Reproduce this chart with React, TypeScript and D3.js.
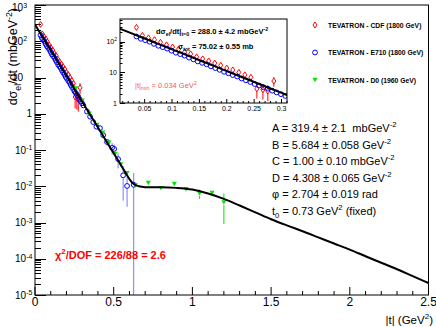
import React from "react";
import * as d3 from "d3";

// ---- fit curve ----
const fitT = [0,0.05,0.1,0.15,0.2,0.25,0.3,0.35,0.4,0.45,0.5,0.54,0.57,0.6,0.62,0.64,0.66,0.7,0.75,0.8,0.9,1.0,1.1,1.2,1.3,1.4,1.5,1.6,1.7,1.8,1.9,2.0,2.1,2.2,2.3,2.4,2.5];
const fitV = [288,127,56.2,24.8,11.0,4.84,2.14,0.944,0.417,0.184,0.0813,0.0427,0.0257,0.0158,0.0123,0.0107,0.0100,0.00944,0.00933,0.00933,0.00902,0.00813,0.00631,0.00447,0.00295,0.00191,0.00123,0.000832,0.000575,0.000389,0.000263,0.000178,0.000117,0.0000776,0.0000513,0.0000331,0.0000214];

// ---- CDF 1800 GeV ----
const cdfT = [0.035,0.046,0.057,0.068,0.079,0.090,0.101,0.112,0.123,0.134,0.145,0.156,0.167,0.178,0.189,0.200,0.211,0.222,0.233,0.244,0.255,0.266,0.275,0.286];
const cdfV = [292,160,134,116,96,79,67,57,46,40,32,27.5,23.5,20,17,13.8,12,10,8.3,6.9,2.9,2.7,2.45,5.2];
const cdfE = [10,6,5,4,3.5,3,2.5,2.2,1.8,1.6,1.3,1.1,1.0,0.9,0.8,0.7,0.65,0.6,0.55,0.5,1.5,1.4,1.3,1.8];

// ---- E710 1800 GeV ----
const e710T = [0.035,0.043,0.051,0.059,0.067,0.075,0.083,0.091,0.099,0.107,0.115,0.123,0.131,0.139,0.147,0.155,0.163,0.171,0.179,0.187,0.195,0.203,0.211,0.219,0.227,0.235,0.243,0.251,0.259,0.267,0.275,0.283,0.291,0.299,0.307,0.33,0.35,0.37,0.39,0.413,0.433,0.458,0.49,0.503,0.528,0.56,0.585,0.627];
const e710V = [148,124,112,100,85,73.6,66.2,59.4,50.9,43.7,39.2,35.2,30.2,26.5,22.7,20.4,18.3,15.7,13.8,12.1,10.4,9.31,8.17,7.33,6.28,5.51,4.84,4.15,3.72,3.27,2.93,2.52,2.21,1.94,1.70,1.15,0.83,0.59,0.44,0.40,0.257,0.166,0.115,0.107,0.056,0.020,0.0102,0.011];
const e710E = [4,3,3,2.5,2,2,1.7,1.5,1.3,1.1,1,0.9,0.8,0.7,0.6,0.55,0.5,0.42,0.38,0.34,0.3,0.27,0.24,0.22,0.2,0.18,0.16,0.14,0.13,0.12,0.11,0.1,0.09,0.08,0.075,0.06,0.05,0.04,0.035,0.035,0.03,0.035,0.04,0.035,0.025,0.016,0.0075,0.012];

// ---- D0 1960 GeV ----
const d0T = [0.26,0.30,0.345,0.394,0.43,0.47,0.51,0.545,0.585,0.636,0.72,0.80,0.885,0.96,1.045,1.125,1.2];
const d0V = [5.0,2.3,1.0,0.49,0.30,0.16,0.078,0.040,0.023,0.0107,0.0123,0.0089,0.0115,0.0083,0.0063,0.0065,0.0036];
const d0E = [0.3,0.15,0.06,0.03,0.02,0.01,0.006,0.004,0.003,0.002,0.0015,0.0012,0.0015,0.0013,0.0018,0.0012,0.0027];

const xTicks = [0, 0.5, 1, 1.5, 2, 2.5];
const xTickLabels = ["0", "0.5", "1", "1.5", "2", "2.5"];
const yExps = [-5, -4, -3, -2, -1, 0, 1, 2, 3];
const insetXTicks = [0.05, 0.1, 0.15, 0.2, 0.25, 0.3];
const insetXTickLabels = ["0.05", "0.1", "0.15", "0.2", "0.25", "0.3"];

const legendLabels = ["TEVATRON - CDF (1800 GeV)", "TEVATRON - E710 (1800 GeV)", "TEVATRON - D0 (1960 GeV)"];

const FONT = "'Liberation Sans', Arial, Helvetica, sans-serif";
const RED = "#ff0000";
const BLUE = "#0000ff";
const BLUE_ERR = "#7878ff";
const GREEN = "#00e600";

type Part = [string, "n" | "sup" | "sub"];

function Rich(props: { x: number; y: number; parts: Part[]; size: number; anchor?: string; fill?: string; weight?: string; transform?: string; supShift?: number }) {
  const { x, y, parts, size, anchor = "start", fill = "#000", weight = "normal", transform, supShift = 0.42 } = props;
  let cur = 0;
  const spans = parts.map((p, i) => {
    const target = p[1] === "sup" ? -supShift * size : p[1] === "sub" ? 0.28 * size : 0;
    const dy = target - cur;
    cur = target;
    return (
      <tspan key={i} dy={dy} fontSize={p[1] === "n" ? size : size * 0.7}>
        {p[0]}
      </tspan>
    );
  });
  return (
    <text x={x} y={y} textAnchor={anchor} fill={fill} fontWeight={weight} fontFamily={FONT} fontSize={size} transform={transform} style={{ whiteSpace: "pre" }}>
      {spans}
    </text>
  );
}

function Marker({ kind, cx, cy }: { kind: string; cx: number; cy: number }) {
  if (kind === "cdf")
    return <path d={`M${cx},${cy - 3}L${cx + 2},${cy}L${cx},${cy + 3}L${cx - 2},${cy}Z`} fill="none" stroke={RED} strokeWidth={1} />;
  if (kind === "e710") return <circle cx={cx} cy={cy} r={2.4} fill="none" stroke={BLUE} strokeWidth={1} />;
  return <path d={`M${cx - 2.6},${cy - 2.2}L${cx + 2.6},${cy - 2.2}L${cx},${cy + 2.2}Z`} fill={GREEN} />;
}

function Series(props: { kind: string; T: number[]; V: number[]; E: number[]; sx: any; sy: any; ybot: number; tmax: number; errColor: string }) {
  const { kind, T, V, E, sx, sy, ybot, tmax, errColor } = props;
  const items = [];
  for (let i = 0; i < T.length; i++) {
    if (T[i] > tmax) continue;
    const cx = sx(T[i]);
    const cy = sy(V[i]);
    const yt = sy(V[i] + E[i]);
    const lo = V[i] - E[i];
    const yb = lo > 0 ? Math.min(sy(lo), ybot) : ybot;
    const gap = 2.5;
    items.push(
      <g key={i}>
        {yt < cy - gap && <line x1={cx} x2={cx} y1={cy - gap} y2={yt} stroke={errColor} strokeWidth={1} />}
        {yb > cy + gap && <line x1={cx} x2={cx} y1={cy + gap} y2={yb} stroke={errColor} strokeWidth={1} />}
        <Marker kind={kind} cx={cx} cy={cy} />
      </g>
    );
  }
  return <g>{items}</g>;
}

export default function App() {
  const W = 436, H = 327;
  const L = 35, R = 428.5, T = 5, B = 295;
  const x = d3.scaleLinear().domain([0, 2.5]).range([L, R]);
  const y = d3.scaleLog().domain([1e-5, 1e3]).range([B, T]);

  const IL = 120, IR = 287, IT = 19, IB = 103;
  const xi = d3.scaleLinear().domain([0.005, 0.31]).range([IL, IR]);
  const yi = d3.scaleLog().domain([1, 550]).range([IB, IT]);

  const fitData = fitT.map((t, i) => [t, fitV[i]] as [number, number]);
  const mainLine = d3.line<[number, number]>().x((d) => x(d[0])).y((d) => y(d[1])).curve(d3.curveMonotoneX)(fitData) || "";
  const insetLine = d3.line<[number, number]>().x((d) => xi(d[0])).y((d) => yi(d[1])).curve(d3.curveMonotoneX)(fitData.filter((d) => d[0] <= 0.4)) || "";

  const xMinor = d3.range(0, 26).map((i) => i / 10);
  const yMinor: number[] = [];
  for (let e = -5; e < 3; e++) for (let k = 2; k <= 9; k++) yMinor.push(k * Math.pow(10, e));
  const ixMinor = d3.range(1, 32).map((i) => i / 100);
  const iyMinor: number[] = [];
  for (let e = 0; e < 3; e++) for (let k = 2; k <= 9; k++) if (k * Math.pow(10, e) <= 550) iyMinor.push(k * Math.pow(10, e));

  const paramLines: Part[][] = [
    [["A = 319.4 ± 2.1  mbGeV", "n"], ["-2", "sup"]],
    [["B = 5.684 ± 0.058 GeV", "n"], ["-2", "sup"]],
    [["C = 1.00 ± 0.10 mbGeV", "n"], ["-2", "sup"]],
    [["D = 4.308 ± 0.065 GeV", "n"], ["-2", "sup"]],
    [["φ = 2.704 ± 0.019 rad", "n"]],
    [["t", "n"], ["0", "sub"], [" = 0.73 GeV", "n"], ["2", "sup"], [" (fixed)", "n"]],
  ];
  const paramY = [132, 148.5, 165, 181.5, 198, 214.5];

  return (
    <svg width={W} height={H} style={{ position: "absolute", left: 0, top: 0, background: "#fff" }}>
      <defs>
        <clipPath id="mainClip">
          <rect x={L} y={T} width={R - L} height={B - T} />
        </clipPath>
        <clipPath id="insetClip">
          <rect x={IL} y={IT} width={IR - IL} height={IB - IT} />
        </clipPath>
      </defs>
      <rect x={0} y={0} width={W} height={H} fill="#fff" />

      <g stroke="#000" strokeWidth={1}>
        {xMinor.map((v, i) => (
          <line key={"xm" + i} x1={x(v)} x2={x(v)} y1={B} y2={B - (i % 5 === 0 ? 8 : 4)} />
        ))}
        {yExps.map((e) => (
          <line key={"ym" + e} x1={L} x2={L + 11} y1={Math.round(y(Math.pow(10, e))) + 0.5} y2={Math.round(y(Math.pow(10, e))) + 0.5} />
        ))}
        {yMinor.map((v, i) => (
          <line key={"yn" + i} x1={L} x2={L + 6} y1={Math.round(y(v)) + 0.5} y2={Math.round(y(v)) + 0.5} />
        ))}
      </g>

      {xTicks.map((v, i) => (
        <text key={"xl" + i} x={x(v)} y={306} textAnchor="middle" fontFamily={FONT} fontSize={12}>
          {xTickLabels[i]}
        </text>
      ))}
      {yExps.map((e) => {
        const yy = Math.max(y(Math.pow(10, e)), 7.5);
        if (e === 0)
          return (
            <text key={"yl" + e} x={32} y={yy + 3.6} textAnchor="end" fontFamily={FONT} fontSize={10}>
              1
            </text>
          );
        if (e === 1)
          return (
            <text key={"yl" + e} x={12} y={yy + 3.6} fontFamily={FONT} fontSize={10}>
              10
            </text>
          );
        return <Rich key={"yl" + e} x={e > 0 ? 12 : 15} y={yy + 3.6} size={10} supShift={0.36} parts={[["10", "n"], [String(e), "sup"]]} />;
      })}

      <g clipPath="url(#mainClip)">
        <Series kind="cdf" T={cdfT} V={cdfV} E={cdfE} sx={x} sy={y} ybot={B} tmax={3} errColor={RED} />
        <Series kind="e710" T={e710T} V={e710V} E={e710E} sx={x} sy={y} ybot={B} tmax={3} errColor={BLUE_ERR} />
        <Series kind="d0" T={d0T} V={d0V} E={d0E} sx={x} sy={y} ybot={B} tmax={3} errColor={GREEN} />
        <path d={mainLine} fill="none" stroke="#000" strokeWidth={2} />
      </g>

      <rect x={L} y={T} width={R - L} height={B - T} fill="none" stroke="#000" strokeWidth={1} />

      <Rich x={0} y={0} transform={`translate(17,8) rotate(-90)`} anchor="end" size={12.5}
        parts={[["dσ", "n"], ["el", "sub"], ["/dt (mbGeV", "n"], ["-2", "sup"], [")", "n"]]} />
      <Rich x={433} y={324} anchor="end" size={11.5} parts={[["|t| (GeV", "n"], ["2", "sup"], [")", "n"]]} />

      {legendLabels.map((lab, i) => {
        const ly = [25, 52.5, 80][i];
        const kind = ["cdf", "e710", "d0"][i];
        return (
          <g key={"lg" + i}>
            <Marker kind={kind} cx={315} cy={ly} />
            <text x={328} y={ly + 2.5} fontFamily={FONT} fontSize={6.8} fontWeight="bold">
              {lab}
            </text>
          </g>
        );
      })}

      {paramLines.map((pl, i) => (
        <Rich key={"pl" + i} x={272} y={paramY[i]} size={11} parts={pl} />
      ))}

      <Rich x={55} y={259} size={11} weight="bold" fill={RED} parts={[["χ", "n"], ["2", "sup"], ["/DOF = 226/88 = 2.6", "n"]]} />

      <rect x={IL} y={IT} width={IR - IL} height={IB - IT} fill="#fff" />
      <g clipPath="url(#insetClip)">
        <Series kind="cdf" T={cdfT} V={cdfV} E={cdfE} sx={xi} sy={yi} ybot={IB} tmax={0.31} errColor={RED} />
        <Series kind="e710" T={e710T} V={e710V} E={e710E} sx={xi} sy={yi} ybot={IB} tmax={0.31} errColor={BLUE_ERR} />
        <path d={insetLine} fill="none" stroke="#000" strokeWidth={2} />
      </g>
      <g stroke="#000" strokeWidth={1}>
        {ixMinor.map((v, i) => (
          <line key={"ixm" + i} x1={xi(v)} x2={xi(v)} y1={IB} y2={IB - ((i + 1) % 5 === 0 ? 4 : 2)} />
        ))}
        {[1, 10, 100].map((v, i) => (
          <line key={"iym" + i} x1={IL} x2={IL + 5} y1={Math.round(yi(v)) + 0.5} y2={Math.round(yi(v)) + 0.5} />
        ))}
        {iyMinor.map((v, i) => (
          <line key={"iyn" + i} x1={IL} x2={IL + 2.5} y1={Math.round(yi(v)) + 0.5} y2={Math.round(yi(v)) + 0.5} />
        ))}
      </g>
      <rect x={IL} y={IT} width={IR - IL} height={IB - IT} fill="none" stroke="#000" strokeWidth={1} />
      {insetXTicks.map((v, i) => (
        <text key={"ixl" + i} x={xi(v)} y={111} textAnchor="middle" fontFamily={FONT} fontSize={7}>
          {insetXTickLabels[i]}
        </text>
      ))}
      <text x={117} y={yi(1) + 2.5} textAnchor="end" fontFamily={FONT} fontSize={7}>1</text>
      <text x={117} y={yi(10) + 2.5} textAnchor="end" fontFamily={FONT} fontSize={7}>10</text>
      <Rich x={117} y={yi(100) + 2.5} anchor="end" size={7} parts={[["10", "n"], ["2", "sup"]]} />

      <Rich x={156} y={34} size={7.5} weight="bold"
        parts={[["dσ", "n"], ["el", "sub"], ["/dt|", "n"], ["t=0", "sub"], [" = 288.0 ± 4.2 mbGeV", "n"], ["-2", "sup"]]} />
      <Rich x={178} y={49} size={7.5} weight="bold"
        parts={[["σ", "n"], ["tot", "sub"], [" = 75.02 ± 0.55 mb", "n"]]} />
      <Rich x={135} y={88} size={7.5} fill="#ff5555"
        parts={[["|t|", "n"], ["min", "sub"], [" = 0.034 GeV", "n"], ["2", "sup"]]} />
    </svg>
  );
}
